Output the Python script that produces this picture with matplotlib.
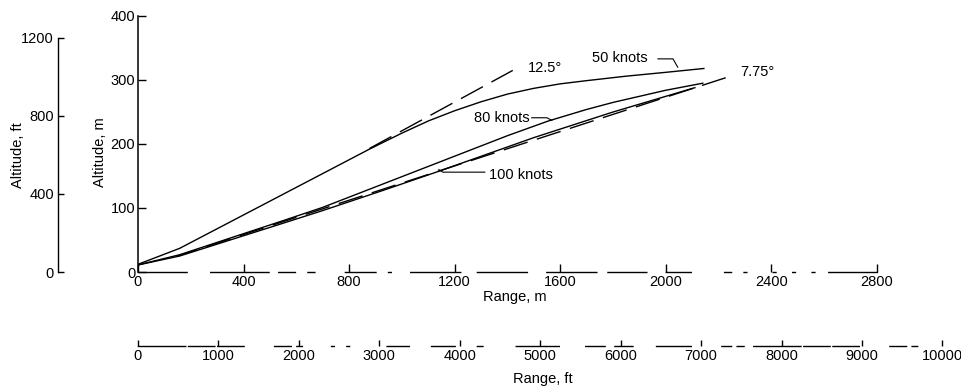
import matplotlib
matplotlib.use('Agg')
import matplotlib.pyplot as plt

plt.rcParams['font.family'] = ['Liberation Sans Narrow', 'Liberation Sans', 'DejaVu Sans']
plt.rcParams['lines.scale_dashes'] = False

# ---------------- data (range in m, altitude in m) ----------------
range_50kn = [0, 158, 877, 1000, 1100, 1200, 1300, 1400, 1500, 1600, 1700, 1850, 2000, 2144]
alt_50kn = [12, 37, 192, 217, 236, 252, 266, 278, 287, 294, 299, 306, 312, 318]

range_80kn = [0, 158, 548, 700, 800, 900, 1000, 1100, 1200, 1300, 1400, 1555, 1700, 1800, 2000, 2140]
alt_80kn = [11, 27, 80, 101, 117, 133, 149, 165, 181, 197, 213, 236, 254, 265, 284, 295]

range_100kn = [0, 158, 548, 700, 932, 1137, 1500, 1800, 2110]
alt_100kn = [11, 25, 76, 96, 128, 157, 210, 250, 288]

range_12_5deg = [877, 1420]
alt_12_5deg = [193, 315]

range_7_75deg = [150, 2245]
alt_7_75deg = [25, 306]

range_m_ticks = [0, 400, 800, 1200, 1600, 2000, 2400, 2800]
alt_m_ticks = [0, 100, 200, 300, 400]
alt_ft_ticks = [0, 400, 800, 1200]
range_ft_ticks = [0, 1000, 2000, 3000, 4000, 5000, 6000, 7000, 8000, 9000, 10000]

W, H = 962, 391
fig = plt.figure(figsize=(W / 100, H / 100), dpi=100)


def fx(px):
    return px / W


def fy(py):
    return 1 - py / H


FS = 10.5
LW = 1.0

# ---------------- main axes (metres) ----------------
x0, x1, y0, y1 = 138, 877, 272, 16
ax = fig.add_axes([fx(x0), fy(y0), (x1 - x0) / W, (y0 - y1) / H])
ax.set_xlim(0, 2800)
ax.set_ylim(0, 400)
for s in ['top', 'right']:
    ax.spines[s].set_visible(False)
ax.spines['left'].set_linewidth(1.1)
ax.spines['bottom'].set_linewidth(1.0)
ax.spines['bottom'].set_linestyle((0, (35, 17, 42, 7, 12, 9, 5, 22, 22, 9, 2, 14, 36, 12,
                                       36, 14, 36, 8, 28, 14, 18, 24, 5, 9, 2, 19, 2, 12,
                                       2, 12, 2, 10, 14, 10, 14, 10)))
ax.set_xticks(range_m_ticks)
ax.set_yticks(alt_m_ticks)
ax.tick_params(axis='both', direction='in', length=5.5, width=1.0, labelsize=FS, pad=2)
ax.patch.set_alpha(0)

ax.plot(range_50kn, alt_50kn, color='black', lw=LW)
ax.plot(range_80kn, alt_80kn, color='black', lw=LW)
ax.plot(range_100kn, alt_100kn, color='black', lw=LW)
ax.plot(range_12_5deg, alt_12_5deg, color='black', lw=LW, linestyle=(0, (18, 7)))
ax.plot(range_7_75deg, alt_7_75deg, color='black', lw=LW, linestyle=(3, (18, 7)))

# curve labels and leaders
ax.text(1542, 319, '12.5°', ha='center', va='center', fontsize=FS)
ax.text(1826, 335, '50 knots', ha='center', va='center', fontsize=FS)
ax.plot([1970, 2027, 2045], [333, 333, 320], color='black', lw=0.8)
ax.text(2280, 313, '7.75°', ha='left', va='center', fontsize=FS)
ax.text(1379, 241, '80 knots', ha='center', va='center', fontsize=FS)
ax.plot([1492, 1549, 1568], [241, 241, 237], color='black', lw=0.8)
ax.text(1450, 152, '100 knots', ha='center', va='center', fontsize=FS)
ax.plot([1314, 1155, 1140], [156, 156, 160], color='black', lw=0.8)

fig.text(fx(100), fy(152), 'Altitude, m', rotation=90, ha='center', va='center', fontsize=FS)
fig.text(fx(515), fy(297), 'Range, m', ha='center', va='center', fontsize=FS)

# ---------------- altitude in feet (left) ----------------
ft_top = 272 - 1200 * 0.3048 * (272 - 16) / 400
axf = fig.add_axes([fx(58), fy(272), 0.02, (272 - ft_top) / H])
axf.set_ylim(0, 1200)
axf.set_xticks([])
for s in ['top', 'right', 'bottom']:
    axf.spines[s].set_visible(False)
axf.spines['left'].set_linewidth(1.0)
axf.set_yticks(alt_ft_ticks)
axf.tick_params(axis='y', direction='in', length=4, width=1.0, labelsize=FS, pad=3)
axf.patch.set_alpha(0)
fig.text(fx(18), fy(155), 'Altitude, ft', rotation=90, ha='center', va='center', fontsize=FS)

# ---------------- range in feet (bottom) ----------------
ft_right = 138 + 10000 * 0.3048 * (877 - 138) / 2800
axr = fig.add_axes([fx(138), fy(346), (ft_right - 138) / W, 0.02])
axr.set_xlim(0, 10000)
axr.set_yticks([])
for s in ['top', 'right', 'left']:
    axr.spines[s].set_visible(False)
axr.spines['bottom'].set_linewidth(1.0)
axr.spines['bottom'].set_linestyle((0, (34, 2, 19, 2, 19, 22, 12, 4, 4, 21, 2, 9, 2, 27,
                                       16, 16, 17, 16, 4, 24, 31, 19, 14, 7, 13, 17, 25, 22,
                                       7, 4, 5, 7, 16, 4, 13, 27, 9, 12, 2, 27, 2, 14, 9, 4)))
axr.set_xticks(range_ft_ticks)
axr.tick_params(axis='x', direction='in', length=4, width=1.0, labelsize=FS, pad=2)
axr.patch.set_alpha(0)
fig.text(fx(543), fy(379), 'Range, ft', ha='center', va='center', fontsize=FS)

fig.savefig('out.png', dpi=100)
